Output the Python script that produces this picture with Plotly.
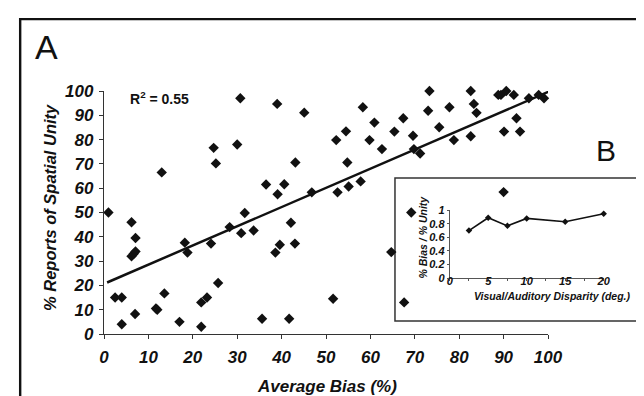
import plotly.graph_objects as go

# Main scatter data: Average Bias (%) vs % Reports of Spatial Unity
bias = [1, 2.5, 4, 4, 6.2, 6.2, 6.7, 7.1, 7.1, 7.0, 11.7, 12, 13.0, 13.6, 17.0, 18.2, 18.8,
        21.9, 21.9, 23.2, 24.1, 24.7, 25.2, 25.7, 28.3, 30.0, 30.7, 30.9, 31.7, 33.7,
        35.6, 36.5, 39.0, 39.1, 38.6, 39.6, 40.6, 41.7, 42.1, 43.0, 43.1, 45.1, 46.8,
        51.6, 52.3, 52.6, 54.5, 54.8, 55.1, 57.8, 58.3, 59.8, 60.9, 62.6, 64.7, 65.4,
        67.4, 67.6, 69.2, 69.6, 69.8, 71.2, 73.0, 73.3, 75.5, 77.8, 78.8, 82.6, 82.6,
        83.3, 83.9, 88.8, 89.4, 90.0, 90.1, 90.6, 92.3, 92.9, 93.7, 95.7, 97.9, 99.1]
unity = [50, 15, 15, 4, 46, 32, 33, 34, 39.5, 8.2, 10.5, 10, 66.5, 16.7, 5, 37.6, 33.5,
         13, 3, 15, 37.2, 76.6, 70.2, 21, 44, 78, 97, 41.5, 49.8, 42.6,
         6.3, 61.5, 94.7, 57.5, 33.5, 36.7, 61.6, 6.3, 45.8, 37.2, 70.6, 91.1, 58.3,
         14.5, 79.8, 58.3, 83.4, 70.6, 60.7, 62.8, 93.3, 79.8, 87, 76.1, 33.7, 83.3,
         88.8, 13, 50, 81.6, 76.1, 74.3, 91.9, 100, 85.1, 93.3, 79.8, 100, 81.4,
         94.7, 91, 98.4, 98.4, 58.4, 83.3, 100, 98.4, 88.8, 83.3, 97, 98.4, 97]

# Linear trend line endpoints (as drawn in the figure)
trend_x = [0.7, 100.5]
trend_y = [21.2, 100]
r2_label = "R<sup>2</sup> = 0.55"

x_ticks = [0, 10, 20, 30, 40, 50, 60, 70, 80, 90, 100]
y_ticks = [0, 10, 20, 30, 40, 50, 60, 70, 80, 90, 100]

# Inset data
disparity = [2.5, 5, 7.5, 10, 15, 20]
ratio = [0.70, 0.89, 0.77, 0.88, 0.83, 0.95]
inset_x_ticks = [0, 5, 10, 15, 20]
inset_y_ticks = [0, 0.2, 0.4, 0.6, 0.8, 1]
inset_y_labels = ["0", "0.2", "0.4", "0.6", "0.8", "1"]

FONT = "Liberation Sans, Arial, sans-serif"
INK = "#111111"


def bi(size):
    return dict(family=FONT, size=size, color=INK, weight="bold", style="italic")


fig = go.Figure()

fig.add_trace(go.Scatter(
    x=trend_x, y=trend_y, mode="lines",
    line=dict(color=INK, width=2.5),
    hoverinfo="skip", showlegend=False))

fig.add_trace(go.Scatter(
    x=bias, y=unity, mode="markers",
    marker=dict(symbol="diamond", size=8, color=INK),
    cliponaxis=False, showlegend=False))

fig.add_trace(go.Scatter(
    x=disparity, y=ratio, mode="lines+markers",
    xaxis="x2", yaxis="y2",
    line=dict(color=INK, width=1.6),
    marker=dict(symbol="diamond", size=5, color=INK),
    cliponaxis=False, showlegend=False))

fig.update_layout(
    width=644, height=396,
    margin=dict(l=0, r=0, t=0, b=0),
    paper_bgcolor="white", plot_bgcolor="rgba(0,0,0,0)",
    font=dict(family=FONT, color=INK),
    xaxis=dict(
        domain=[0.14907, 0.83851], anchor="y", automargin=False,
        range=[0, 100], tickvals=x_ticks, ticktext=[str(v) for v in x_ticks],
        showline=True, linecolor="#333333", linewidth=1.3,
        ticks="outside", ticklen=4, tickcolor="#333333",
        showgrid=False, zeroline=False,
        tickfont=bi(17), ticklabelstandoff=3,
    ),
    yaxis=dict(
        domain=[0.17677, 0.79040], anchor="x", automargin=False,
        range=[0, 100], tickvals=y_ticks, ticktext=[str(v) for v in y_ticks],
        showline=True, linecolor="#333333", linewidth=1.3,
        ticks="outside", ticklen=4, tickcolor="#333333",
        showgrid=False, zeroline=False,
        tickfont=bi(17), ticklabelstandoff=2,
    ),
    xaxis2=dict(
        domain=[0.68587, 0.92500], anchor="y2", automargin=False, range=[0, 20],
        tickvals=inset_x_ticks,
        showline=True, linecolor="#555555", linewidth=1,
        ticks="outside", ticklen=2, tickcolor="#555555",
        minor=dict(dtick=2.5, ticks="outside", ticklen=2, tickcolor="#555555"),
        showgrid=False, zeroline=False, tickfont=bi(11), ticklabelstandoff=-9,
    ),
    yaxis2=dict(
        domain=[0.31818, 0.48914], anchor="x2", automargin=False, range=[0, 1],
        tickvals=inset_y_ticks, ticktext=inset_y_labels,
        showline=True, linecolor="#555555", linewidth=1,
        ticks="outside", ticklen=2, tickcolor="#555555",
        showgrid=False, zeroline=False, tickfont=bi(11), ticklabelstandoff=0,
    ),
    shapes=[
        # inset box
        dict(type="rect", xref="paper", yref="paper",
             x0=0.6009, x1=0.9814, y0=0.2096, y1=0.5707,
             line=dict(color="#333333", width=1.5), fillcolor="white", layer="below"),
        # outer frame: top and left lines
        dict(type="line", xref="paper", yref="paper",
             x0=0.0174, x1=1.0, y0=0.9718, y1=0.9718,
             line=dict(color=INK, width=2.4)),
        dict(type="line", xref="paper", yref="paper",
             x0=0.0189, x1=0.0189, y0=0.9745, y1=0.0,
             line=dict(color=INK, width=2.4)),
    ],
    annotations=[
        dict(text=r2_label, x=5.4, y=97.1, xref="x", yref="y", xanchor="left", yanchor="middle",
             showarrow=False, font=dict(family=FONT, size=14, color=INK, weight="bold")),
        dict(text="A", x=38 / 644, y=1 - 39 / 396, xref="paper", yref="paper",
             xanchor="center", yanchor="middle",
             showarrow=False, font=dict(family=FONT, size=34, color=INK)),
        dict(text="B", x=597.5 / 644, y=1 - 142.5 / 396, xref="paper", yref="paper",
             xanchor="center", yanchor="middle",
             showarrow=False, font=dict(family=FONT, size=30, color=INK)),
        # main axis titles
        dict(text="Average Bias (%)", x=319 / 644, y=1 - 378 / 396, xref="paper", yref="paper",
             xanchor="center", yanchor="middle", showarrow=False, font=bi(17)),
        dict(text="% Reports of Spatial Unity", x=42 / 644, y=1 - 200 / 396,
             xref="paper", yref="paper", xanchor="center", yanchor="middle",
             textangle=-90, showarrow=False, font=bi(16.5)),
        # inset axis titles
        dict(text="Visual/Auditory Disparity (deg.)", x=544 / 644, y=1 - 288 / 396,
             xref="paper", yref="paper", xanchor="center", yanchor="middle",
             showarrow=False, font=bi(10.5)),
        dict(text="% Bias / % Unity", x=414.5 / 644, y=1 - 229 / 396,
             xref="paper", yref="paper", xanchor="center", yanchor="middle",
             textangle=-90, showarrow=False, font=bi(10.5)),
    ],
)

fig.write_html("out.html")
